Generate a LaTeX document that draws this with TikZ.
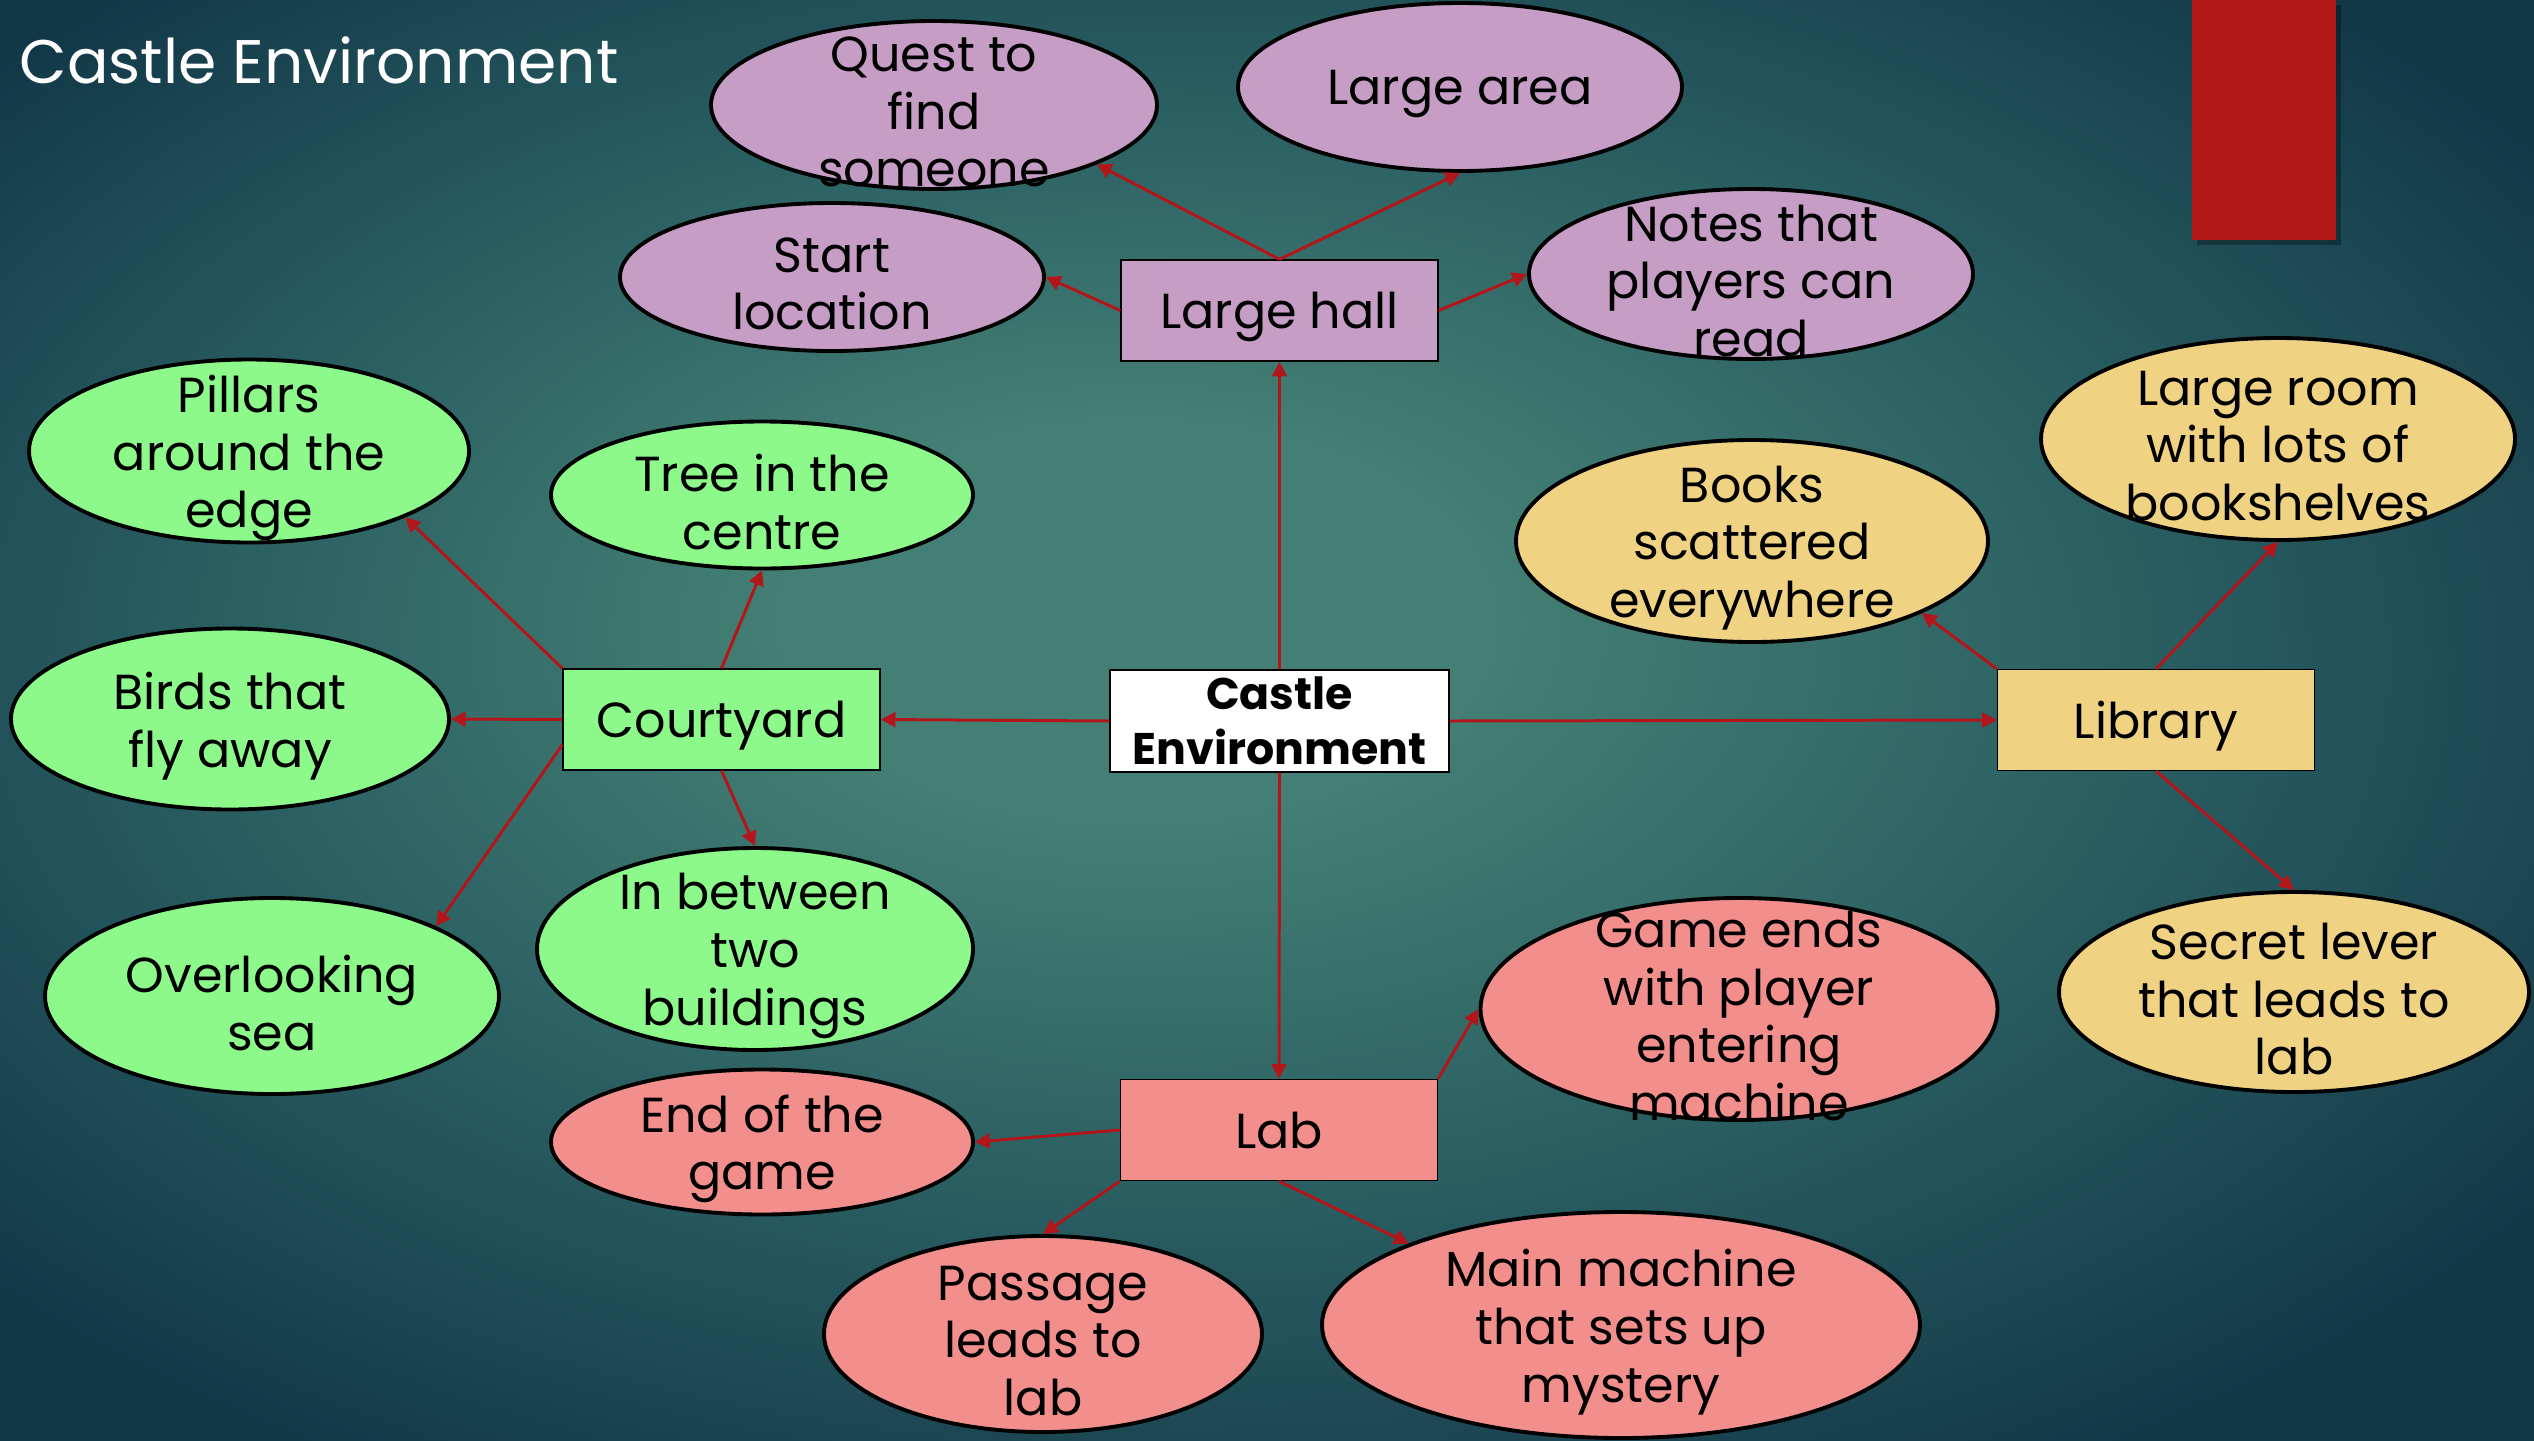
\documentclass[tikz,border=0pt]{standalone}
\usepackage{fontspec}
\setmainfont{Poppins}
\usepackage{xcolor}
\usepackage{tikz}
\usetikzlibrary{positioning,shapes,shadows,arrows.meta}
\definecolor{myred}{RGB}{178,22,26}
\definecolor{mybanner}{RGB}{176,22,19}
\definecolor{mypurple}{RGB}{197,157,197}
\definecolor{mygreen}{RGB}{140,249,138}
\definecolor{myyellow}{RGB}{240,210,131}
\definecolor{mypink}{RGB}{242,142,139}
\definecolor{bgin}{RGB}{67,127,116}
\definecolor{bgmid}{RGB}{40,92,96}
\definecolor{bgout}{RGB}{18,56,72}
\pgfdeclareradialshading{castleglow}{\pgfpoint{-3bp}{4bp}}{color(0bp)=(bgin);color(7bp)=(bgin);color(20bp)=(bgmid);color(32bp)=(bgout);color(50bp)=(bgout)}

\begin{document}
\begin{tikzpicture}[
          room/.style={rectangle,draw=black,line width=0.4pt,inner sep=0pt,
            minimum width=3.17cm,minimum height=1.01cm,text height=10.5pt,text depth=0pt,
            font=\fontsize{14}{16.4}\selectfont},
          idea/.style={ellipse,draw=black,line width=1.1pt,inner sep=0pt},
          every label/.style={align=center,yshift=-0.07cm,font=\fontsize{14}{16.4}\selectfont},
          link/.style={draw=myred,line width=0.85pt,-{Triangle[length=4.2pt,width=4.2pt]}}
          ]
          % the background
          \useasboundingbox (0,0) rectangle (25.34,-14.4);
          \shade[shading=castleglow] (0,0) rectangle (25.34,-14.4);
          \fill[mybanner,drop shadow={opacity=0.3,fill=black,shadow xshift=1.5pt,shadow yshift=-1.5pt}]
            (21.92,0) rectangle (23.36,-2.40);
          \node[anchor=west,inner sep=0pt,text=white,font=\fontsize{17.5}{21}\selectfont]
            (title) at (0.19,-0.60) {Castle Environment};
          % the rooms
          \node[room,fill=white,minimum width=3.39cm,minimum height=1.02cm,align=center,
            text height=,text depth=,yshift=-0.03cm,
            font=\fontsize{12.6}{15.8}\selectfont\bfseries] (castle) at (12.795,-7.18) {Castle\\Environment};
          \node[room,fill=mypurple] (hall) at (12.795,-3.105) {Large hall};
          \node[room,fill=mygreen] (yard) at (7.215,-7.195) {Courtyard};
          \node[room,fill=myyellow] (library) at (21.56,-7.20) {Library};
          \node[room,fill=mypink] (lab) at (12.79,-11.30) {Lab};
          % the details of the hall
          \foreach \n/\x/\y/\w/\h/\t in {quest/9.34/-1.05/4.46/1.68/{Quest to\\find\\someone},
              area/14.60/-0.87/4.44/1.68/{Large area},
              start/8.32/-2.77/4.24/1.48/{Start\\location},
              notes/17.51/-2.74/4.44/1.70/{Notes that\\players can\\read}}
            \node[idea,fill=mypurple,minimum width=\w cm,minimum height=\h cm,
              label={center:\t}] (\n) at (\x,\y) {};
          % the details of the courtyard
          \foreach \n/\x/\y/\w/\h/\t in {pillars/2.49/-4.51/4.40/1.83/{Pillars\\around the\\edge},
              tree/7.62/-4.95/4.22/1.47/{Tree in the\\centre},
              birds/2.30/-7.19/4.38/1.81/{Birds that\\fly away},
              sea/2.72/-9.96/4.54/1.96/{Overlooking\\sea},
              between/7.55/-9.49/4.36/2.02/{In between\\two\\buildings}}
            \node[idea,fill=mygreen,minimum width=\w cm,minimum height=\h cm,
              label={center:\t}] (\n) at (\x,\y) {};
          % the details of the library
          \foreach \n/\x/\y/\w/\h/\t in {books/17.52/-5.41/4.72/2.02/{Books\\scattered\\everywhere},
              shelves/22.78/-4.39/4.74/2.02/{Large room\\with lots of\\bookshelves},
              lever/22.94/-9.92/4.70/2.00/{Secret lever\\that leads to\\lab}}
            \node[idea,fill=myyellow,minimum width=\w cm,minimum height=\h cm,
              label={center:\t}] (\n) at (\x,\y) {};
          % the details of the lab
          \foreach \n/\x/\y/\w/\h/\t in {ending/17.39/-10.09/5.17/2.22/{Game ends\\with player\\entering\\machine},
              endgame/7.62/-11.42/4.22/1.45/{End of the\\game},
              passage/10.43/-13.34/4.38/1.96/{Passage\\leads to\\lab},
              machine/16.21/-13.25/5.98/2.26/{Main machine\\that sets up\\mystery}}
            \node[idea,fill=mypink,minimum width=\w cm,minimum height=\h cm,
              label={center:\t}] (\n) at (\x,\y) {};
          % the edges
          \draw[link] (castle.north) -- (hall.south);
          \draw[link] (castle.west) -- (yard.east);
          \draw[link] (castle.east) -- (library.west);
          \draw[link] (castle.south) -- (lab.north);
          \draw[link] (hall.north) -- (quest.-20);
          \draw[link] (hall.north) -- (area.south);
          \draw[link] (hall.west) -- (start.east);
          \draw[link] (hall.east) -- (notes.west);
          \draw[link] (yard.north west) -- (pillars.-23);
          \draw[link] (yard.north) -- (tree.south);
          \draw[link] (yard.west) -- (birds.east);
          \draw[link] (yard.189) -- (sea.23);
          \draw[link] (yard.south) -- (between.north);
          \draw[link] (library.north west) -- (books.-23);
          \draw[link] (library.north) -- (shelves.south);
          \draw[link] (library.south) -- (lever.north);
          \draw[link] (lab.north east) -- (ending.west);
          \draw[link] (lab.west) -- (endgame.east);
          \draw[link] (lab.south west) -- (passage.north);
          \draw[link] (lab.south) -- (machine.159);
        \end{tikzpicture}
\end{document}
